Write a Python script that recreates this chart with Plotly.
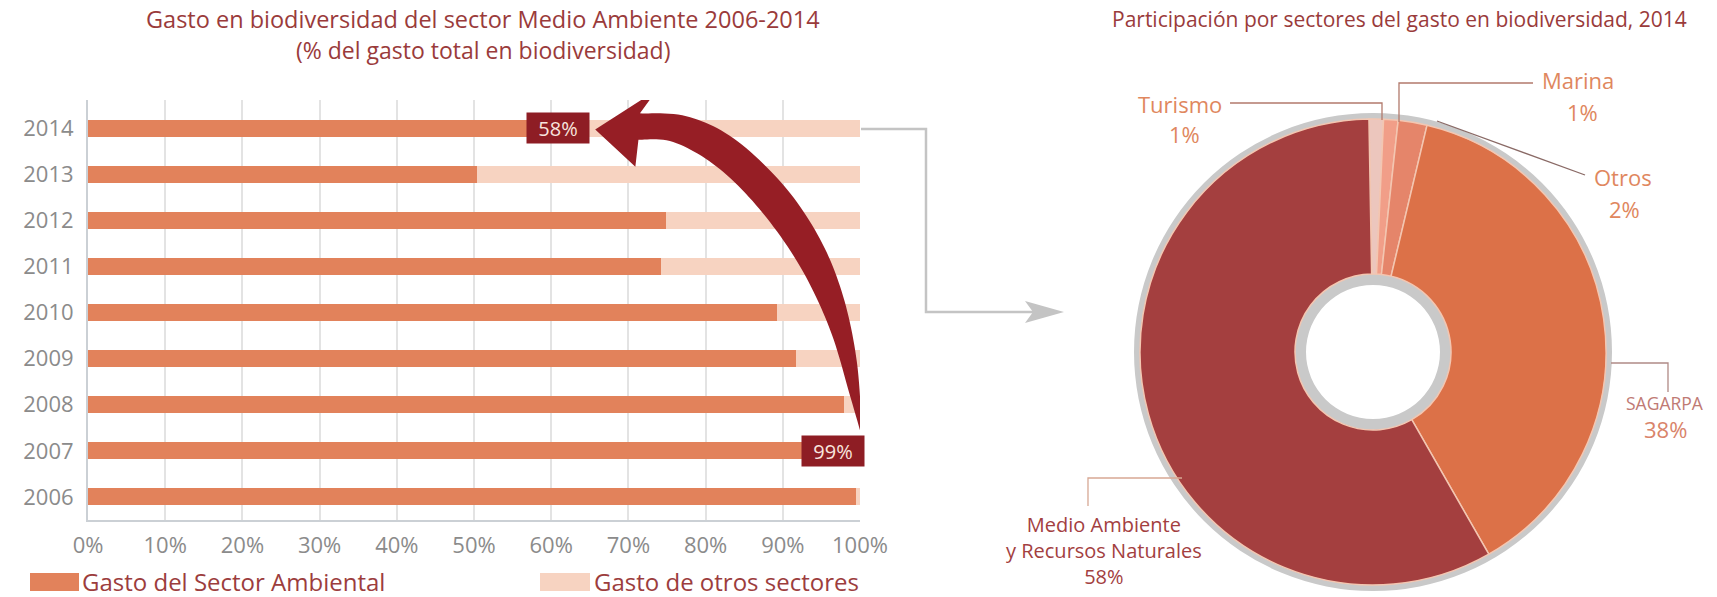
import plotly.graph_objects as go
import numpy as np

# ---------------- data ----------------
years = [2006, 2007, 2008, 2009, 2010, 2011, 2012, 2013, 2014]
gasto_ambiental = [99.5, 99.0, 97.9, 91.7, 89.3, 74.2, 74.9, 50.4, 58.0]
gasto_otros = [round(100 - v, 1) for v in gasto_ambiental]
x_ticks = list(range(0, 101, 10))
x_tick_labels = [f"{t}%" for t in x_ticks]
highlight_labels = {2014: "58%", 2007: "99%"}

sectores = ["Turismo", "Marina", "Otros", "SAGARPA", "Medio Ambiente y Recursos Naturales"]
participacion = [1, 1, 2, 38, 58]
pie_colors = ["#ecc6bd", "#f19e88", "#e5856a", "#dc7148", "#a43f3f"]

titulo_barras = ["Gasto en biodiversidad del sector Medio Ambiente 2006-2014",
                 "(% del gasto total en biodiversidad)"]
titulo_pie = "Participación por sectores del gasto en biodiversidad, 2014"
legend_names = ["Gasto del Sector Ambiental", "Gasto de otros sectores"]

# ---------------- layout helpers ----------------
W, H = 1717, 597
FONT = "Open Sans"
def PX(x):
    return x / W
def PY(y):
    return 1 - y / H

C_AMB = "#e2825b"
C_OTR = "#f7d3c1"
C_TITLE = "#9a3b3b"
C_TICK = "#8b8b8b"
C_BOX = "#8e1d24"
C_ARROW = "#961e25"

fig = go.Figure()

fig.add_trace(go.Bar(y=years, x=gasto_ambiental, orientation="h", marker_color=C_AMB,
                     marker_line_width=0, width=0.37, name=legend_names[0], showlegend=False))
fig.add_trace(go.Bar(y=years, x=gasto_otros, orientation="h", marker_color=C_OTR,
                     marker_line_width=0, width=0.37, name=legend_names[1], showlegend=False))

# ---------------- donut ----------------
cx, cy = 1373, 352
r_col, r_gray = 233, 239
hole_col, hole_gray = 78, 67
fig.add_trace(go.Pie(values=[1], marker=dict(colors=["#c9c9c9"]), hole=hole_gray / r_gray,
                     domain=dict(x=[PX(cx - r_gray), PX(cx + r_gray)], y=[PY(cy + r_gray), PY(cy - r_gray)]),
                     textinfo="none", hoverinfo="skip", showlegend=False, sort=False))
fig.add_trace(go.Pie(labels=sectores, values=participacion, marker=dict(colors=pie_colors,
                     line=dict(color="#f3c6b1", width=1.5)),
                     hole=hole_col / r_col, direction="clockwise", sort=False, rotation=-1,
                     domain=dict(x=[PX(cx - r_col), PX(cx + r_col)], y=[PY(cy + r_col), PY(cy - r_col)]),
                     textinfo="none", showlegend=False))

shapes = []
annotations = []

# ---------------- curved arrow (decoration, in data units) ----------------
def catmull(pts, n=12):
    pts = np.array(pts, dtype=float)
    P = np.vstack([pts[0], pts, pts[-1]])
    out = []
    for i in range(1, len(P) - 2):
        p0, p1, p2, p3 = P[i - 1], P[i], P[i + 1], P[i + 2]
        for t in np.linspace(0, 1, n, endpoint=False):
            t2, t3 = t * t, t * t * t
            out.append(0.5 * ((2 * p1) + (-p0 + p2) * t + (2 * p0 - 5 * p1 + 4 * p2 - p3) * t2
                              + (-p0 + 3 * p1 - 3 * p2 + p3) * t3))
    out.append(P[-2])
    return out

outer = [(71.5, 2014.32), (77.5, 2014.26), (83.6, 2013.78), (90.1, 2012.76), (94.8, 2011.6),
         (97.8, 2010.36), (99.6, 2008.92), (100.3, 2007.27)]
inner = [(100.3, 2007.27), (98.7, 2008.2), (96.1, 2009.64), (92.2, 2011.01), (87.0, 2012.24),
         (81.4, 2013.17), (75.8, 2013.7), (71.3, 2013.75)]
head = [(70.9, 2013.16), (65.7, 2013.97), (73.7, 2014.83)]
poly = catmull(outer) + catmull(inner) + [np.array(p) for p in head]
path = "M " + " L ".join(f"{p[0]:.3f},{p[1]:.4f}" for p in poly) + " Z"
shapes.append(dict(type="path", path=path, xref="x", yref="y", fillcolor=C_ARROW,
                   line=dict(width=0), layer="above"))

# highlight boxes
box_pos = {2014: 60.9, 2007: 96.5}
for yr, txt in highlight_labels.items():
    annotations.append(dict(x=box_pos[yr], y=yr, xref="x", yref="y", text=txt, showarrow=False,
                            font=dict(family=FONT, size=20, color="#f8e4de"), bgcolor=C_BOX,
                            width=58, height=26, borderpad=2, xanchor="center", yanchor="middle"))

# titles
annotations.append(dict(x=PX(483), y=PY(19), xref="paper", yref="paper", text=titulo_barras[0],
                        showarrow=False, font=dict(family=FONT, size=23.5, color=C_TITLE),
                        xanchor="center", yanchor="middle"))
annotations.append(dict(x=PX(483), y=PY(50), xref="paper", yref="paper", text=titulo_barras[1],
                        showarrow=False, font=dict(family=FONT, size=23, color=C_TITLE),
                        xanchor="center", yanchor="middle"))
annotations.append(dict(x=PX(1399), y=PY(19), xref="paper", yref="paper", text=titulo_pie,
                        showarrow=False, font=dict(family=FONT, size=21, color=C_TITLE),
                        xanchor="center", yanchor="middle"))

# legend (custom)
legend_items = [(30, 79, 80, C_AMB, legend_names[0]), (540, 590, 592, C_OTR, legend_names[1])]
for x0, x1, xt, col, name in legend_items:
    shapes.append(dict(type="rect", xref="paper", yref="paper", x0=PX(x0), x1=PX(x1),
                       y0=PY(591), y1=PY(573), fillcolor=col, line=dict(width=0)))
    annotations.append(dict(x=PX(xt), y=PY(581), xref="paper", yref="paper", text=name,
                            showarrow=False, font=dict(family=FONT, size=24, color="#9c3d3d"),
                            xanchor="left", yanchor="middle"))

# connector from bars to donut
def ppath(pts):
    return "M " + " L ".join(f"{PX(x):.5f},{PY(y):.5f}" for x, y in pts)
shapes.append(dict(type="path", path=ppath([(861, 129), (926, 129), (926, 312), (1035, 312)]),
                   xref="paper", yref="paper", line=dict(color="#c4c4c4", width=2.5)))
shapes.append(dict(type="path", path=ppath([(1025, 301), (1064, 312), (1025, 323), (1033, 312)]) + " Z",
                   xref="paper", yref="paper", fillcolor="#c4c4c4", line=dict(width=0)))

# pie label leaders
C_LEAD = "#b27a6c"
shapes.append(dict(type="path", path=ppath([(1230, 103), (1382, 103), (1382, 120)]),
                   xref="paper", yref="paper", line=dict(color=C_LEAD, width=1.3)))
shapes.append(dict(type="path", path=ppath([(1533, 83), (1399, 83), (1399, 122)]),
                   xref="paper", yref="paper", line=dict(color=C_LEAD, width=1.3)))
shapes.append(dict(type="path", path=ppath([(1585, 175), (1437, 121)]),
                   xref="paper", yref="paper", line=dict(color="#8a6a66", width=1.3)))
shapes.append(dict(type="path", path=ppath([(1611, 363), (1668, 363), (1668, 392)]),
                   xref="paper", yref="paper", line=dict(color="#b08a86", width=1.3)))
shapes.append(dict(type="path", path=ppath([(1182, 478), (1088, 478), (1088, 506)]),
                   xref="paper", yref="paper", line=dict(color="#d7a894", width=1.3)))

C_PL = "#e0875e"
C_MA = "#a3403f"
pie_texts = [
    (1180, 104, "Turismo", 22, C_PL), (1184, 134, f"{participacion[0]}%", 22, C_PL),
    (1578, 80, "Marina", 22, C_PL), (1582, 112, f"{participacion[1]}%", 22, C_PL),
    (1623, 177, "Otros", 22, C_PL), (1624, 209, f"{participacion[2]}%", 22, C_PL),
    (1665, 403, "SAGARPA", 17.5, "#c07a74"), (1665, 429, f"{participacion[3]}%", 22, "#d9846a"),
]
for x, y, t, s, c in pie_texts:
    annotations.append(dict(x=PX(x), y=PY(y), xref="paper", yref="paper", text=t, showarrow=False,
                            font=dict(family=FONT, size=s, color=c), xanchor="center", yanchor="middle"))

# Medio Ambiente label as one multi-line text
annotations.append(dict(x=PX(1104), y=PY(550), xref="paper", yref="paper",
                        text=f"Medio Ambiente<br>y Recursos Naturales<br>{participacion[4]}%",
                        showarrow=False, align="center",
                        font=dict(family=FONT, size=20, color=C_MA), xanchor="center", yanchor="middle"))

fig.update_layout(
    width=W, height=H, margin=dict(l=0, r=0, t=0, b=0, autoexpand=False),
    paper_bgcolor="white", plot_bgcolor="white",
    barmode="stack", bargap=0,
    font=dict(family=FONT, color=C_TICK),
    xaxis=dict(domain=[PX(88), PX(860)], range=[0, 100], tickvals=x_ticks, ticktext=x_tick_labels,
               showgrid=True, gridcolor="#e3e3e3", gridwidth=1.5, zeroline=False, automargin=False,
               showline=True, linecolor="#cbd0d5", linewidth=2, ticks="",
               tickfont=dict(family=FONT, size=22, color=C_TICK), ticklabelstandoff=5),
    yaxis=dict(domain=[PY(520), PY(100)], range=[2005.5, 2014.61], tickvals=years,
               ticktext=[str(y) for y in years], showgrid=False, zeroline=False, automargin=False,
               showline=True, linecolor="#cbd0d5", linewidth=2, ticks="",
               tickfont=dict(family=FONT, size=22, color=C_TICK), ticklabelstandoff=8),
    annotations=annotations, shapes=shapes,
)

fig.write_html("out.html", config={"displayModeBar": False},
               post_script="document.body.style.margin='0';document.body.style.overflow='hidden';")
